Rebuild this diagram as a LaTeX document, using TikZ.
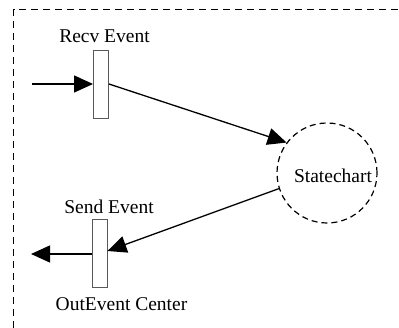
\documentclass[tikz,border=0pt]{standalone}
\usepackage{fontspec}
\setmainfont{Liberation Serif}
\usetikzlibrary{arrows.meta}

\tikzset{
    portbox/.style={draw=black!65, fill=white, line width=0.9pt, minimum width=15pt, minimum height=68pt, inner sep=0pt},
    statecircle/.style={draw, circle, dashed, dash pattern=on 6pt off 4pt, line width=1.2pt, minimum size=100pt, inner sep=0pt},
    portlabel/.style={anchor=base, inner sep=0pt, font=\fontsize{19.5}{23}\selectfont},
    flow/.style={line width=1.3pt, -{Triangle[length=19pt,width=17pt]}}
}

\begin{document}
\begin{tikzpicture}[x=1pt, y=-1pt]
    \useasboundingbox (0,0) rectangle (399,328);
    \clip (0,0) rectangle (399,328);
    % outer frame, runs past the right and bottom edges
    \draw[dashed, dash pattern=on 7pt off 5pt, line width=1.3pt] (13.5,340) -- (13.5,9.5) -- (410,9.5);

    \node[portbox] (recv) at (101,84) {};
    \node[portbox] (send) at (99.5,253) {};
    \node[statecircle] (chart) at (327,173) {};

    \node[portlabel] (recvlabel) at (104.5,43) {Recv Event};
    \node[portlabel] (sendlabel) at (109,214) {Send Event};
    \node[portlabel] (outlabel) at (121.5,311) {OutEvent Center};
    \node[portlabel] (chartlabel) at (333,183) {Statechart};

    \coordinate (inside) at (32,84);
    \coordinate (outside) at (31,254);

    \draw[flow] (inside) -- (recv.west);
    \draw[flow] (recv.east) -- (chart.143);
    \draw[flow] (chart.198) -- ([yshift=2pt]send.east);
    \draw[flow] ([yshift=-1pt]send.west) -- (outside);
\end{tikzpicture}
\end{document}
